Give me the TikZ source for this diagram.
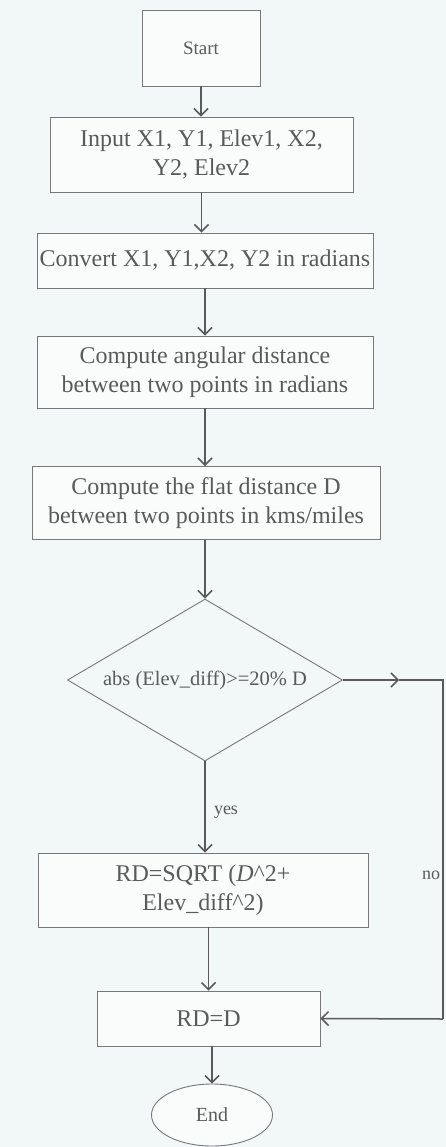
\documentclass[tikz,border=0pt]{standalone}
\usepackage{fontspec}
\setmainfont{Liberation Serif}
\usetikzlibrary{shapes.geometric,arrows.meta}
\definecolor{paper}{RGB}{242,247,247}
\definecolor{boxfill}{RGB}{250,252,252}
\definecolor{ink}{RGB}{90,90,90}
\definecolor{rim}{RGB}{120,120,120}
\tikzset{
  stepbox/.style={draw=rim,fill=boxfill,line width=0.9pt,rectangle,inner sep=0pt,
    text=ink,align=center,font=\fontsize{24}{29}\selectfont},
  testbox/.style={draw=rim,line width=0.9pt,diamond,aspect=1.7,inner sep=0pt,
    text=ink,font=\fontsize{20.5}{24}\selectfont},
  endbox/.style={draw=rim,fill=boxfill,line width=0.9pt,ellipse,inner sep=0pt,
    text=ink,font=\fontsize{20}{24}\selectfont},
  flow/.style={draw=ink,line width=1.5pt,-{Straight Barb[length=7pt,width=14pt]}},
  plainflow/.style={draw=ink,line width=1.5pt},
  tag/.style={text=ink,font=\fontsize{18}{22}\selectfont}
}
\begin{document}
\begin{tikzpicture}[x=1pt,y=-1pt]
\fill[paper] (0,0) rectangle (446,1147);
\useasboundingbox (0,0) rectangle (446,1147);
% boxes of the flow
\node[stepbox,minimum width=118pt,minimum height=76pt,font=\fontsize{19}{23}\selectfont] (start) at (201,48) {Start};
\node[stepbox,minimum width=303pt,minimum height=75pt] (input) at (201.5,154.5) {Input X1, Y1, Elev1, X2,\\ Y2, Elev2};
\node[stepbox,minimum width=336pt,minimum height=55pt] (convert) at (205,260.5) {Convert X1, Y1,X2, Y2 in radians};
\node[stepbox,minimum width=336pt,minimum height=72pt] (angular) at (205,372) {Compute angular distance\\ between two points in radians};
\node[stepbox,minimum width=348pt,minimum height=73pt] (flat) at (206,503) {Compute the flat distance D\\ between two points in kms/miles};
\node[testbox,minimum width=275pt,minimum height=162pt] (test) at (205,680) {abs (Elev\_diff)>=20\% D};
\node[stepbox,minimum width=330pt,minimum height=74pt] (rdroot) at (203,890) {RD=SQRT (\textit{D}\^{}2+\\ Elev\_diff\^{}2)};
\node[stepbox,minimum width=223pt,minimum height=55pt] (rdflat) at (208.5,1018.5) {RD=D};
\node[endbox,minimum width=121pt,minimum height=62pt] (end) at (212,1115) {End};
\node[tag] (yes) at (226,812) {yes};
\node[tag] (no) at (431,875) {no};
% corners of the no branch
\coordinate (nomid) at (399,680);
\coordinate (notop) at (443,680);
\coordinate (nobot) at (443,1019);
\draw[flow] (start) -- (start |- input.north);
\draw[flow] (input) -- (input |- convert.north);
\draw[flow] (convert) -- (convert |- angular.north);
\draw[flow] (angular) -- (angular |- flat.north);
\draw[flow] (test.north |- flat.south) -- (test.north);
\draw[flow] (test.south) -- (test.south |- rdroot.north);
\draw[flow] (rdroot.south -| rdflat) -- (rdflat);
\draw[flow] (rdflat.south -| end) -- (end);
\draw[flow] (test.east) -- (nomid);
\draw[plainflow] (nomid) -- (notop) -- (nobot);
\draw[flow] (nobot) -- (rdflat.east);
\end{tikzpicture}
\end{document}
